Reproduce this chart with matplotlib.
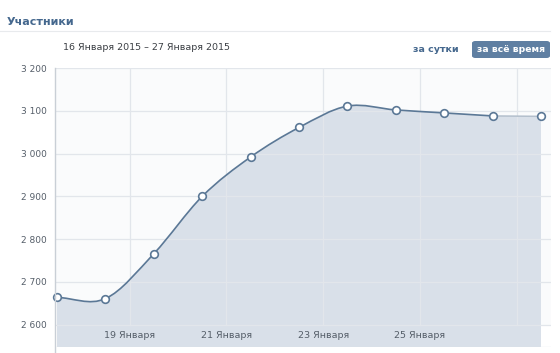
import numpy as np
import matplotlib
matplotlib.use("Agg")
import matplotlib.pyplot as plt
from matplotlib.path import Path
from matplotlib.patches import PathPatch, FancyBboxPatch

# data: daily member count (points drawn at noon of each day)
days = [17.5, 18.5, 19.5, 20.5, 21.5, 22.5, 23.5, 24.5, 25.5, 26.5, 27.5]
members = [2664, 2661, 2766, 2900, 2992, 3061, 3111, 3102, 3095, 3088, 3087]
tick_days = [19, 21, 23, 25]
tick_labels = ["19 Января", "21 Января", "23 Января", "25 Января"]
grid_days = [19, 21, 23, 25, 27]
y_ticks = [2600, 2700, 2800, 2900, 3000, 3100, 3200]

LINE = "#5b7896"
LIGHT = "#b3bfcc"
FILL = "#d9e0e9"
GRID = "#e2e6eb"
TXT = "#555e69"
VK = "#45688e"


def spline_path(x, y):
    # catmull-rom -> cubic bezier
    pts = np.column_stack([x, y]).astype(float)
    n = len(pts)
    verts = [pts[0]]
    codes = [Path.MOVETO]
    for i in range(n - 1):
        p0 = pts[i - 1] if i > 0 else pts[i] - (pts[i + 1] - pts[i])
        p1, p2 = pts[i], pts[i + 1]
        p3 = pts[i + 2] if i + 2 < n else p2 + (p2 - p1)
        c1 = p1 + (p2 - p0) / 6
        c2 = p2 - (p3 - p1) / 6
        verts += [c1, c2, p2]
        codes += [Path.CURVE4] * 3
    return verts, codes


fig = plt.figure(figsize=(5.6, 3.53), dpi=100)
fig.patch.set_facecolor("white")

# header
fig.text(7 / 560, 1 - 22 / 353, "Участники", fontsize=8, fontweight="bold",
         color=VK, va="center", ha="left")
fig.add_artist(plt.Line2D([0, 550 / 560], [1 - 31 / 353] * 2, color="#e8eaed", lw=0.8))
fig.text(63 / 560, 1 - 47 / 353, "16 Января 2015 – 27 Января 2015", fontsize=6.8,
         color="#3b3f44", va="center", ha="left")
fig.text(436 / 560, 1 - 49 / 353, "за сутки", fontsize=6.8, fontweight="bold",
         color=VK, va="center", ha="center")
btn = FancyBboxPatch((472 / 560, 1 - 58 / 353), 78 / 560, 17 / 353,
                     boxstyle="round,pad=0,rounding_size=0.006",
                     transform=fig.transFigure, fc="#5f7fa2", ec="none")
fig.add_artist(btn)
fig.text(511 / 560, 1 - 49.5 / 353, "за всё время", fontsize=6.7, fontweight="bold",
         color="white", va="center", ha="center")

ax = fig.add_axes([55 / 560, 6 / 353, 496 / 560, 279 / 353])
ax.set_facecolor("#fafbfc")
x0 = days[0] - 2 / 48.4
x1 = days[-1] + 10 / 48.4
ymin = 2548
ax.set_xlim(x0, x1)
ax.set_ylim(ymin, 3200)

# label band below 2600
ax.axhspan(ymin, 2600, color="white", zorder=0)

# fill + curve
verts, codes = spline_path(days, members)
fill_verts = verts + [(days[-1], ymin), (days[0], ymin), verts[0]]
fill_codes = codes + [Path.LINETO, Path.LINETO, Path.CLOSEPOLY]
ax.add_patch(PathPatch(Path(fill_verts, fill_codes), fc=FILL, ec="none", zorder=1))

# grid
for g in y_ticks:
    ax.axhline(g, color=GRID, lw=0.9, zorder=2)
for g in grid_days:
    ax.plot([g, g], [2600, 3200], color=GRID, lw=0.9, zorder=2)
ax.axhline(ymin + 1, color="#dfe3e8", lw=0.9, zorder=2)

main_v, main_c = spline_path(days[:-1], members[:-1])
ax.add_patch(PathPatch(Path(main_v, main_c), fc="none", ec=LINE, lw=1.2, zorder=3))
ax.plot(days[-2:], members[-2:], color=LIGHT, lw=1.1, zorder=3)
ax.plot(days, members, "o", ms=5.5, mfc="white", mec=LINE, mew=1.2, zorder=4,
        clip_on=False)

for d, lab in zip(tick_days, tick_labels):
    ax.text(d, 2576, lab, fontsize=6.8, color=TXT, ha="center", va="center", zorder=5)

ax.set_xticks([])
ax.set_yticks(y_ticks)
ax.set_yticklabels([f"{v:,}".replace(",", " ") for v in y_ticks], fontsize=6.5, color=TXT)
ax.tick_params(axis="y", length=0, pad=6)
for s in ["top", "right", "bottom"]:
    ax.spines[s].set_visible(False)
ax.spines["left"].set_visible(False)
fig.add_artist(plt.Line2D([55 / 560] * 2, [0, 1 - 68 / 353], color="#c9cfd6", lw=1))

fig.savefig("out.png", dpi=100)
